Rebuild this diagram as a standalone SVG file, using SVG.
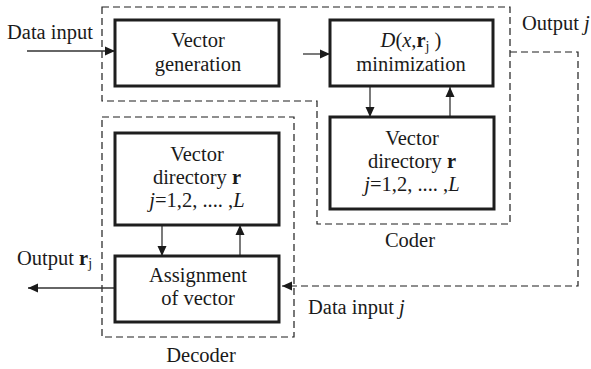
<svg xmlns="http://www.w3.org/2000/svg" width="591" height="369" viewBox="0 0 591 369">
<style>
  text { font-family: "Liberation Serif", "Times New Roman", serif; font-size: 20.5px; fill: #1a1a1a; }
  .c { text-anchor: middle; }
  .box { fill: #fff; stroke: #1e1e1e; stroke-width: 3; }
  .dash { fill: none; stroke: #1e1e1e; stroke-width: 1.2; stroke-dasharray: 7 4; }
  .line { fill: none; stroke: #333; stroke-width: 1.3; }
  .dline { fill: none; stroke: #1e1e1e; stroke-width: 1.2; stroke-dasharray: 7 4; }
  .i { font-style: italic; }
  .b { font-weight: bold; }
  .sub { font-size: 14px; }
</style>
<defs>
  <marker id="ah" viewBox="0 0 10 10" refX="10" refY="5" markerWidth="10" markerHeight="10" markerUnits="userSpaceOnUse" orient="auto">
    <path d="M0,0.5 L10,5 L0,9.5 Z" fill="#1a1a1a"/>
  </marker>
</defs>

<g id="coder">
  <path class="dash" d="M102,7 H510 V224 H317 V101 H102 Z"/>
  <text class="c" x="410" y="247">Coder</text>
</g>
<g id="decoder">
  <rect class="dash" x="102" y="117" width="192" height="220"/>
  <text class="c" x="201" y="362">Decoder</text>
</g>

<g id="connectors">
  <path class="line" d="M27,51 H115" marker-end="url(#ah)"/>
  <path class="line" d="M303,54 H330" marker-end="url(#ah)"/>
  <path class="line" d="M370,87 V117" marker-end="url(#ah)"/>
  <path class="line" d="M450,117 V87" marker-end="url(#ah)"/>
  <path class="line" d="M162,225 V256" marker-end="url(#ah)"/>
  <path class="line" d="M240,256 V225" marker-end="url(#ah)"/>
  <path class="line" d="M115,288 H28" marker-end="url(#ah)"/>
  <path class="dline" d="M510,52 H578 V286 H282" marker-end="url(#ah)"/>
</g>

<g id="vector-generation">
  <rect class="box" x="115" y="20" width="164" height="66"/>
  <text class="c" x="198" y="47">Vector</text>
  <text class="c" x="198" y="71">generation</text>
</g>

<g id="d-minimization">
  <rect class="box" x="330" y="20" width="163" height="66"/>
  <text class="c" x="411" y="47"><tspan class="i">D</tspan>(<tspan class="i">x</tspan>,<tspan class="b">r</tspan><tspan class="sub" dy="4">j</tspan><tspan dy="-4"> )</tspan></text>
  <text class="c" x="411" y="71">minimization</text>
</g>

<g id="coder-directory">
  <rect class="box" x="330" y="117" width="164" height="92"/>
  <text class="c" x="412" y="145">Vector</text>
  <text class="c" x="412" y="168">directory <tspan class="b">r</tspan></text>
  <text class="c" x="412" y="191"><tspan class="i">j</tspan>=1,2, .... ,<tspan class="i">L</tspan></text>
</g>

<g id="decoder-directory">
  <rect class="box" x="115" y="133" width="164" height="92"/>
  <text class="c" x="197" y="161">Vector</text>
  <text class="c" x="197" y="184">directory <tspan class="b">r</tspan></text>
  <text class="c" x="197" y="207"><tspan class="i">j</tspan>=1,2, .... ,<tspan class="i">L</tspan></text>
</g>

<g id="assignment">
  <rect class="box" x="115" y="256" width="164" height="66"/>
  <text class="c" x="198" y="282">Assignment</text>
  <text class="c" x="198" y="305">of vector</text>
</g>

<g id="labels">
  <text x="7" y="39">Data input</text>
  <text x="522" y="30">Output <tspan class="i">j</tspan></text>
  <text x="17" y="265">Output <tspan class="b">r</tspan><tspan class="sub" dy="3">j</tspan></text>
  <text x="308" y="314">Data input <tspan class="i">j</tspan></text>
</g>
</svg>
